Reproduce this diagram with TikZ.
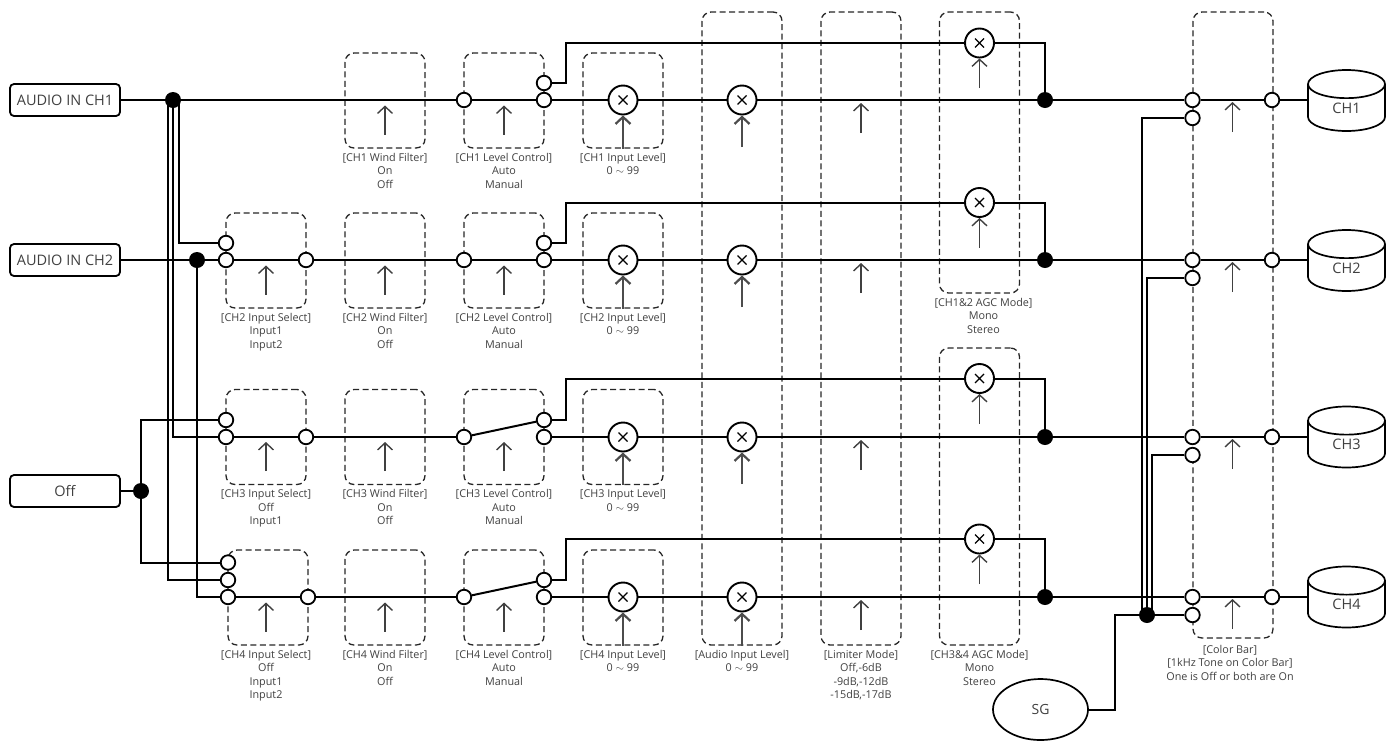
\documentclass[tikz,border=0pt]{standalone}
\usepackage{fontspec}
\setmainfont{Open Sans}
\usepackage{tikz}
\usetikzlibrary{arrows.meta,positioning,shapes.geometric}

\begin{document}
\begin{tikzpicture}[
    x=1pt, y=-1pt,
    srcnode/.style={rectangle, draw, line width=1.8pt, rounded corners=4pt, minimum width=110pt,
                    minimum height=32pt, inner sep=0pt, align=center, text=black!75,
                    font=\fontsize{14.5}{16}\selectfont},
    swbox/.style={rectangle, draw=black!85, dashed, dash pattern=on 6pt off 3.5pt, line width=1.3pt,
                  rounded corners=9pt, minimum width=80pt, minimum height=95pt, inner sep=0pt},
    opennode/.style={circle, draw, line width=1.8pt, fill=white, minimum size=14.5pt, inner sep=0pt},
    dotnode/.style={circle, fill=black, minimum size=16pt, inner sep=0pt},
    mixnode/.style={circle, draw, line width=1.9pt, fill=white, minimum size=29pt, inner sep=0pt,
                    path picture={\draw[line width=1.2pt] (path picture bounding box.center) ++(-4.5,-4.5) -- ++(9,9)
                                  ++(-9,0) -- ++(9,-9);}},
    chnode/.style={cylinder, shape border rotate=90, draw, line width=1.7pt, aspect=1.0, minimum width=77pt,
                   minimum height=61pt, inner sep=0pt, anchor=shape center, text=black!75,
                   font=\fontsize{14.5}{16}\selectfont},
    sgnode/.style={ellipse, draw, line width=1.7pt, minimum width=95pt, minimum height=61pt, inner sep=0pt,
                   text=black!75, font=\fontsize{14}{16}\selectfont},
    ctltext/.style={align=center, inner sep=0pt, text=black!75, font=\fontsize{10.8}{13.5}\selectfont},
    sig/.style={line width=2pt},
    ctl/.style={-{Straight Barb[length=7pt,width=15pt]}, line width=1.4pt, black!75},
    ctlb/.style={-{Straight Barb[length=7pt,width=15pt]}, line width=2.2pt, black!70}
]
\useasboundingbox (0,0) rectangle (1396,740);

%% ---- Dashed boxes ----
\node[swbox] (is2) at (266,260.5) {};
\node[swbox] (is3) at (266,437) {};
\node[swbox] (is4) at (268,597.5) {};
\node[swbox] (wf1) at (385,100.5) {};
\node[swbox] (wf2) at (385,260.5) {};
\node[swbox] (wf3) at (385,437) {};
\node[swbox] (wf4) at (385,597.5) {};
\node[swbox] (lc1) at (504,100.5) {};
\node[swbox] (lc2) at (504,260.5) {};
\node[swbox] (lc3) at (504,437) {};
\node[swbox] (lc4) at (504,597.5) {};
\node[swbox] (il1) at (623,100.5) {};
\node[swbox] (il2) at (623,260.5) {};
\node[swbox] (il3) at (623,437) {};
\node[swbox] (il4) at (623,597.5) {};
\node[swbox, minimum height=633pt] (ail) at (742,328.5) {};
\node[swbox, minimum height=633pt] (lim) at (861,328.5) {};
\node[swbox, minimum height=281pt] (agc12) at (979.5,152.5) {};
\node[swbox, minimum height=297pt] (agc34) at (979.5,496.5) {};
\node[swbox, minimum height=626pt] (cbar) at (1233,325) {};

%% ---- Box labels ----
\node[ctltext, below=4pt of is2] (tis2) {[CH2 Input Select]\\Input1\\Input2};
\node[ctltext, below=4pt of is3] (tis3) {[CH3 Input Select]\\Off\\Input1};
\node[ctltext, below=4pt of is4, xshift=-2pt] (tis4) {[CH4 Input Select]\\Off\\Input1\\Input2};
\node[ctltext, below=4pt of wf1] (twf1) {[CH1 Wind Filter]\\On\\Off};
\node[ctltext, below=4pt of wf2] (twf2) {[CH2 Wind Filter]\\On\\Off};
\node[ctltext, below=4pt of wf3] (twf3) {[CH3 Wind Filter]\\On\\Off};
\node[ctltext, below=4pt of wf4] (twf4) {[CH4 Wind Filter]\\On\\Off};
\node[ctltext, below=4pt of lc1] (tlc1) {[CH1 Level Control]\\Auto\\Manual};
\node[ctltext, below=4pt of lc2] (tlc2) {[CH2 Level Control]\\Auto\\Manual};
\node[ctltext, below=4pt of lc3] (tlc3) {[CH3 Level Control]\\Auto\\Manual};
\node[ctltext, below=4pt of lc4] (tlc4) {[CH4 Level Control]\\Auto\\Manual};
\node[ctltext, below=4pt of il1] (til1) {[CH1 Input Level]\\0 $\sim$ 99};
\node[ctltext, below=4pt of il2] (til2) {[CH2 Input Level]\\0 $\sim$ 99};
\node[ctltext, below=4pt of il3] (til3) {[CH3 Input Level]\\0 $\sim$ 99};
\node[ctltext, below=4pt of il4] (til4) {[CH4 Input Level]\\0 $\sim$ 99};
\node[ctltext, below=4pt of ail] (tail) {[Audio Input Level]\\0 $\sim$ 99};
\node[ctltext, below=4pt of lim] (tlim) {[Limiter Mode]\\Off,-6dB\\-9dB,-12dB\\-15dB,-17dB};
\node[ctltext, below=4pt of agc12, xshift=4pt] (tagc12) {[CH1\&2 AGC Mode]\\Mono\\Stereo};
\node[ctltext, below=4pt of agc34] (tagc34) {[CH3\&4 AGC Mode]\\Mono\\Stereo};
\node[ctltext, below=6pt of cbar, xshift=-3pt] (tcbar) {[Color Bar]\\{}[1kHz Tone on Color Bar]\\One is Off or both are On};

%% ---- Sources ----
\node[srcnode] (ain1) at (65,100) {AUDIO IN CH1};
\node[srcnode] (ain2) at (65,260) {AUDIO IN CH2};
\node[srcnode] (off)  at (65,491) {Off};
\node[sgnode]  (sg)   at (1040.5,709.5) {SG};
\node[dotnode] (ds1) at (173,100) {};
\node[dotnode] (ds2) at (197,260) {};
\node[dotnode] (ds3) at (141,491) {};

%% ---- Input select ----
\node[opennode] (a2) at (226,243) {};
\node[opennode] (b2) at (226,260) {};
\node[opennode] (c2) at (306,260) {};
\node[opennode] (a3) at (226,420) {};
\node[opennode] (b3) at (226,437) {};
\node[opennode] (c3) at (306,437) {};
\node[opennode] (a4) at (228,562.5) {};
\node[opennode] (e4) at (228,580) {};
\node[opennode] (b4) at (228,597) {};
\node[opennode] (c4) at (308,597) {};

%% ---- Level control ----
\node[opennode] (l1) at (464,100) {};
\node[opennode] (m1) at (544,100) {};
\node[opennode] (u1) at (544,83) {};
\node[opennode] (l2) at (464,260) {};
\node[opennode] (m2) at (544,260) {};
\node[opennode] (u2) at (544,243) {};
\node[opennode] (l3) at (464,437) {};
\node[opennode] (m3) at (544,437) {};
\node[opennode] (u3) at (544,420) {};
\node[opennode] (l4) at (464,597) {};
\node[opennode] (m4) at (544,597) {};
\node[opennode] (u4) at (544,580) {};

%% ---- Level stages ----
\node[mixnode] (x1) at (623,100) {};
\node[mixnode] (x2) at (623,260) {};
\node[mixnode] (x3) at (623,437) {};
\node[mixnode] (x4) at (623,597) {};
\node[mixnode] (y1) at (742,100) {};
\node[mixnode] (y2) at (742,260) {};
\node[mixnode] (y3) at (742,437) {};
\node[mixnode] (y4) at (742,597) {};
\node[mixnode] (z1) at (979.5,43) {};
\node[mixnode] (z2) at (979.5,202.5) {};
\node[mixnode] (z3) at (979.5,378.5) {};
\node[mixnode] (z4) at (979.5,539) {};
\coordinate (r1) at (861,100);
\coordinate (r2) at (861,260);
\coordinate (r3) at (861,437);
\coordinate (r4) at (861,597);
\node[dotnode] (dj1) at (1045,100) {};
\node[dotnode] (dj2) at (1045,260) {};
\node[dotnode] (dj3) at (1045,437) {};
\node[dotnode] (dj4) at (1045,597) {};

%% ---- Color bar and outputs ----
\node[opennode] (p1) at (1192.5,100) {};
\node[opennode] (q1) at (1192.5,118) {};
\node[opennode] (o1) at (1272,100) {};
\node[opennode] (p2) at (1192.5,260) {};
\node[opennode] (q2) at (1192.5,278) {};
\node[opennode] (o2) at (1272,260) {};
\node[opennode] (p3) at (1192.5,437) {};
\node[opennode] (q3) at (1192.5,455) {};
\node[opennode] (o3) at (1272,437) {};
\node[opennode] (p4) at (1192.5,597) {};
\node[opennode] (q4) at (1192.5,615) {};
\node[opennode] (o4) at (1272,597) {};
\node[dotnode] (dg) at (1147,615) {};
\coordinate (sgb) at (1115,615);
\coordinate (k1) at (1232.5,100);
\coordinate (k2) at (1232.5,260);
\coordinate (k3) at (1232.5,437);
\coordinate (k4) at (1232.5,597);
\node[chnode] (ch1) at (1346.5,100.5) {CH1};
\node[chnode] (ch2) at (1346.5,260.5) {CH2};
\node[chnode] (ch3) at (1346.5,437) {CH3};
\node[chnode] (ch4) at (1346.5,597) {CH4};

%% ---- Left wiring ----
\draw[sig] (ain1)--(ds1);
\draw[sig] (ds1)--(l1);
\draw[sig] (ain2)--(ds2);
\draw[sig] (ds2)--(b2);
\draw[sig] (a2.west)-|([xshift=5.5pt]ds1.center);
\draw[sig] (b3.west)-|(ds1.center);
\draw[sig] (e4.west)-|([xshift=-5.5pt]ds1.center);
\draw[sig] (b4.west)-|(ds2.center);
\draw[sig] (off)--(ds3);
\draw[sig] (a3.west)-|(ds3.center);
\draw[sig] (a4.west)-|(ds3.center);
\draw[sig] (b2)--(c2);
\draw[sig] (b3)--(c3);
\draw[sig] (b4)--(c4);
\draw[sig] (c2)--(l2);
\draw[sig] (c3)--(l3);
\draw[sig] (c4)--(l4);

%% ---- Row wiring ----
\draw[sig] (l1)--(m1);
\draw[sig] (l2)--(m2);
\draw[sig] (l3)--(u3);
\draw[sig] (l4)--(u4);
\draw[sig] (m1)--(x1);
\draw[sig] (m2)--(x2);
\draw[sig] (m3)--(x3);
\draw[sig] (m4)--(x4);
\draw[sig] (x1)--(y1);
\draw[sig] (x2)--(y2);
\draw[sig] (x3)--(y3);
\draw[sig] (x4)--(y4);
\draw[sig] (y1)--(dj1);
\draw[sig] (y2)--(dj2);
\draw[sig] (y3)--(dj3);
\draw[sig] (y4)--(dj4);
\draw[sig] (u1.east)--++(14,0)|-(z1);
\draw[sig] (u2.east)--++(14,0)|-(z2);
\draw[sig] (u3.east)--++(14,0)|-(z3);
\draw[sig] (u4.east)--++(14,0)|-(z4);
\draw[sig] (z1)-|(dj1);
\draw[sig] (z2)-|(dj2);
\draw[sig] (z3)-|(dj3);
\draw[sig] (z4)-|(dj4);

%% ---- Right wiring ----
\draw[sig] (dj1)--(p1);
\draw[sig] (dj2)--(p2);
\draw[sig] (dj3)--(p3);
\draw[sig] (dj4)--(p4);
\draw[sig] (p1)--(o1);
\draw[sig] (p2)--(o2);
\draw[sig] (p3)--(o3);
\draw[sig] (p4)--(o4);
\draw[sig] (o1)--(o1-|ch1.west);
\draw[sig] (o2)--(o2-|ch2.west);
\draw[sig] (o3)--(o3-|ch3.west);
\draw[sig] (o4)--(o4-|ch4.west);
\draw[sig] (sg)-|(sgb)--(dg);
\draw[sig] (dg)--(q4);
\draw[sig] (q1.west)-|([xshift=-5.5pt]dg.center);
\draw[sig] (q2.west)-|(dg.center);
\draw[sig] (q3.west)-|([xshift=5pt]dg.center);

%% ---- Control arrows ----
\draw[ctl] ([yshift=-34pt]is2.center)--([yshift=-5pt]is2.center);
\draw[ctl] ([yshift=-34pt]is3.center)--([yshift=-5pt]is3.center);
\draw[ctl] ([yshift=-34pt,xshift=-2pt]is4.center)--([yshift=-5pt,xshift=-2pt]is4.center);
\draw[ctl] ([yshift=-34pt]wf1.center)--([yshift=-5pt]wf1.center);
\draw[ctl] ([yshift=-34pt]wf2.center)--([yshift=-5pt]wf2.center);
\draw[ctl] ([yshift=-34pt]wf3.center)--([yshift=-5pt]wf3.center);
\draw[ctl] ([yshift=-34pt]wf4.center)--([yshift=-5pt]wf4.center);
\draw[ctl] ([yshift=-34pt]lc1.center)--([yshift=-5pt]lc1.center);
\draw[ctl] ([yshift=-34pt]lc2.center)--([yshift=-5pt]lc2.center);
\draw[ctl] ([yshift=-34pt]lc3.center)--([yshift=-5pt]lc3.center);
\draw[ctl] ([yshift=-34pt]lc4.center)--([yshift=-5pt]lc4.center);
\draw[ctlb] (il1.south)--(x1.south);
\draw[ctlb] (il2.south)--(x2.south);
\draw[ctlb] (il3.south)--(x3.south);
\draw[ctlb] (il4.south)--(x4.south);
\draw[ctlb] ([yshift=-47pt]y1.center)--(y1.south);
\draw[ctlb] ([yshift=-47pt]y2.center)--(y2.south);
\draw[ctlb] ([yshift=-47pt]y3.center)--(y3.south);
\draw[ctlb] (ail.south)--(y4.south);
\draw[ctl] ([yshift=-33pt]r1)--([yshift=-3pt]r1);
\draw[ctl] ([yshift=-33pt]r2)--([yshift=-3pt]r2);
\draw[ctl] ([yshift=-33pt]r3)--([yshift=-3pt]r3);
\draw[ctl] ([yshift=-33pt]r4)--([yshift=-3pt]r4);
\draw[ctl] ([yshift=-45pt]z1.center)--(z1.south);
\draw[ctl] ([yshift=-45pt]z2.center)--(z2.south);
\draw[ctl] ([yshift=-45pt]z3.center)--(z3.south);
\draw[ctl] ([yshift=-45pt]z4.center)--(z4.south);
\draw[ctl] ([yshift=-32pt]k1)--([yshift=-2pt]k1);
\draw[ctl] ([yshift=-32pt]k2)--([yshift=-2pt]k2);
\draw[ctl] ([yshift=-32pt]k3)--([yshift=-2pt]k3);
\draw[ctl] ([yshift=-32pt]k4)--([yshift=-2pt]k4);

\end{tikzpicture}
\end{document}
